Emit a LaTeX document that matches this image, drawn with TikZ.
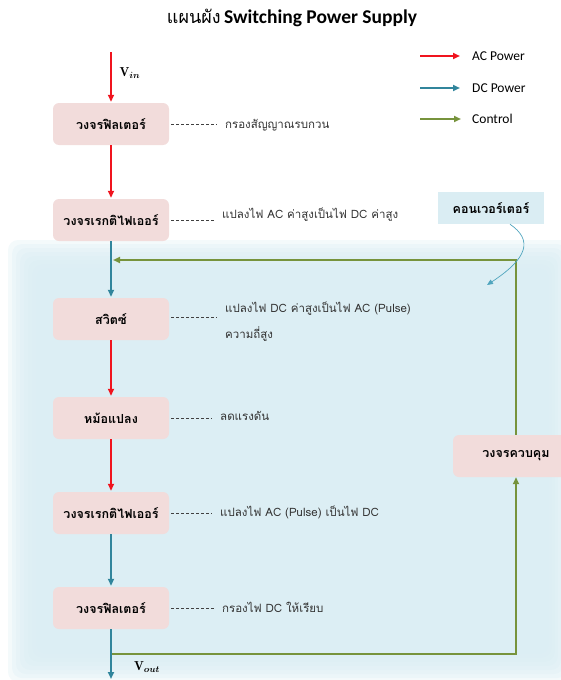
\documentclass[tikz,border=0pt]{standalone}
\usepackage{amsmath}
\usepackage{fontspec}
\newfontfamily\thaifont[Script=Thai]{Loma}
\newfontfamily\latfont{Carlito}
\usetikzlibrary{arrows.meta}
\definecolor{acred}{RGB}{240,20,30}
\definecolor{dcblue}{RGB}{49,133,156}
\definecolor{ctlgreen}{RGB}{119,147,60}
\definecolor{boxpink}{RGB}{242,220,219}
\definecolor{bgblue}{RGB}{218,237,243}
\definecolor{convblue}{RGB}{80,165,190}
\newcommand{\accol}{acred}
\newcommand{\dccol}{dcblue}
\newcommand{\ctlcol}{ctlgreen}

\begin{document}
\begin{tikzpicture}[x=1pt, y=-1pt,
    blk/.style={fill=boxpink, rounded corners=6pt, minimum width=116pt,
      minimum height=42pt, font=\thaifont\bfseries\fontsize{12.5}{14}\selectfont},
    note/.style={anchor=west, inner sep=0pt, text=black!80,
      font=\thaifont\fontsize{11.5}{14}\selectfont},
    noteline/.style={draw=black!75, dash pattern=on 3pt off 2pt, shorten <=2pt, shorten >=8pt},
    acline/.style={draw=\accol, line width=2pt, -{Triangle[length=7pt,width=6pt]}, shorten >=1pt},
    dcline/.style={draw=\dccol, line width=2pt, -{Triangle[length=7pt,width=6pt]}, shorten >=1pt},
    ctlline/.style={draw=\ctlcol, line width=2.4pt, line join=miter},
    vlabel/.style={font=\fontsize{13}{15}\selectfont},
    lgtext/.style={anchor=west, inner sep=0pt, font=\latfont\fontsize{13.5}{15}\selectfont}]

    \useasboundingbox (0,0) rectangle (560,680);

    % background of the converter part
    \foreach \i in {0,...,7}
      \fill[bgblue, opacity=0.3, rounded corners=10pt]
        (8+4*\i, 240+4*\i) rectangle (570-3*\i, 682-4*\i);

    \node (title) at (292,18) {{\thaifont\fontsize{18}{20}\selectfont แผนผัง}
      {\latfont\bfseries\fontsize{19.5}{22}\selectfont Switching Power Supply}};

    % legend
    \coordinate (la1) at (420,56);  \coordinate (lb1) at (461,56);
    \coordinate (la2) at (420,88);  \coordinate (lb2) at (461,88);
    \coordinate (la3) at (420,119); \coordinate (lb3) at (461,119);
    \draw[acline] (la1) -- (lb1);
    \draw[dcline] (la2) -- (lb2);
    \draw[ctlline, -{Triangle[length=7pt,width=6pt]}] (la3) -- (lb3);
    \node[lgtext] (lt1) at (472,56) {AC Power};
    \node[lgtext] (lt2) at (472,88) {DC Power};
    \node[lgtext] (lt3) at (472,119) {Control};

    % blocks
    \node[blk] (filt1) at (111,124) {วงจรฟิลเตอร์};
    \node[blk] (rect1) at (111,220) {วงจรเรกติไฟเออร์};
    \node[blk] (sw) at (111,319) {สวิตซ์};
    \node[blk] (xfmr) at (111,418) {หม้อแปลง};
    \node[blk] (rect2) at (111,513) {วงจรเรกติไฟเออร์};
    \node[blk] (filt2) at (111,608) {วงจรฟิลเตอร์};
    \node[blk, minimum width=126pt] (ctl) at (516,456) {วงจรควบคุม};

    \node[fill=bgblue, minimum width=106pt, minimum height=32pt,
      font=\thaifont\bfseries\fontsize{12.5}{14}\selectfont] (conv) at (491,208) {คอนเวอร์เตอร์};

    % notes
    \node[note] (n1) at (225,125) {กรองสัญญาณรบกวน};
    \node[note] (n2) at (222,215) {แปลงไฟ AC ค่าสูงเป็นไฟ DC ค่าสูง};
    \node[note, align=left] (n3) at (225,322) {แปลงไฟ DC ค่าสูงเป็นไฟ AC (Pulse)\\[10pt]ความถี่สูง};
    \node[note] (n4) at (220,416) {ลดแรงดัน};
    \node[note] (n5) at (220,512) {แปลงไฟ AC (Pulse) เป็นไฟ DC};
    \node[note] (n6) at (222,607) {กรองไฟ DC ให้เรียบ};

    \draw[noteline] (filt1.east) -- (filt1.east -| n1.west);
    \draw[noteline] (rect1.east) -- (rect1.east -| n2.west);
    \draw[noteline] ([yshift=2pt]sw.east) -- ([yshift=2pt]sw.east -| n3.west);
    \draw[noteline] (xfmr.east) -- (xfmr.east -| n4.west);
    \draw[noteline] (rect2.east) -- (rect2.east -| n5.west);
    \draw[noteline] (filt2.east) -- (filt2.east -| n6.west);

    % power path
    \coordinate (vin) at (111,52);
    \coordinate (vout) at (111,680);
    \draw[acline] (vin) -- (filt1);
    \draw[acline] (filt1) -- (rect1);
    \draw[dcline] (rect1) -- (sw);
    \draw[acline] (sw) -- (xfmr);
    \draw[acline] (xfmr) -- (rect2);
    \draw[dcline] (rect2) -- (filt2);
    \draw[dcline] (filt2) -- (vout);

    \node[vlabel] (vinlbl) at (130,73) {$\mathbf{V}_{\boldsymbol{in}}$};
    \node[vlabel] (voutlbl) at (147,667) {$\mathbf{V}_{\boldsymbol{out}}$};

    % control loop
    \coordinate (fb1) at (112,654);
    \coordinate (fb2) at (516,654);
    \coordinate (fb3) at (516,260);
    \coordinate (fb4) at (113,260);
    \draw[ctlline, -{Triangle[length=7pt,width=6pt]}] (fb1) -- (fb2) -- (ctl);
    \draw[ctlline, -{Triangle[length=7pt,width=6pt]}] (ctl) -- (fb3) -- (fb4);

    % converter pointer
    \coordinate (convtip) at (487,285);
    \draw[draw=convblue, line width=0.7pt, -{Triangle[length=6pt,width=5pt]}]
      ([xshift=19pt]conv.south) .. controls (533,240) and (528,258) .. (convtip);

\end{tikzpicture}
\end{document}
